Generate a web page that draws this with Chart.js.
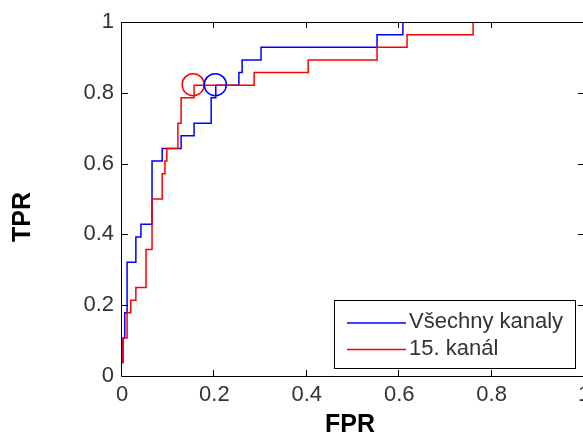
<!DOCTYPE html>
<html>
<head>
<meta charset="utf-8">
<script src="https://cdn.jsdelivr.net/npm/chart.js@4/dist/chart.umd.min.js"></script>
<style>
    html, body { margin: 0; padding: 0; background: #fff; overflow: hidden; width: 583px; height: 434px; }
    #wrap { width: 600px; height: 434px; }
</style>
</head>
<body>
<div id="wrap"><canvas id="rocChart"></canvas></div>
<script>
// ROC curve vertices
const allFpr = [0.002, 0.002, 0.006, 0.006, 0.011, 0.011, 0.030, 0.030, 0.041, 0.041, 0.065, 0.065, 0.087, 0.087,
    0.128, 0.128, 0.156, 0.156, 0.193, 0.193, 0.203, 0.203, 0.253, 0.253, 0.260, 0.260, 0.301, 0.301,
    0.552, 0.552, 0.608, 0.608, 1];
const allTpr = [0.036, 0.107, 0.107, 0.179, 0.179, 0.321, 0.321, 0.393, 0.393, 0.429, 0.429, 0.607, 0.607, 0.643,
    0.643, 0.679, 0.679, 0.714, 0.714, 0.786, 0.786, 0.821, 0.821, 0.857, 0.857, 0.893, 0.893, 0.929,
    0.929, 0.964, 0.964, 1, 1];

const ch15Fpr = [0.002, 0.002, 0.011, 0.011, 0.019, 0.019, 0.030, 0.030, 0.052, 0.052, 0.065, 0.065,
    0.087, 0.087, 0.093, 0.093, 0.097, 0.097, 0.121, 0.121, 0.128, 0.128, 0.156, 0.156, 0.286, 0.286,
    0.403, 0.403, 0.552, 0.552, 0.617, 0.617, 0.760, 0.760, 1];
const ch15Tpr = [0.036, 0.107, 0.107, 0.179, 0.179, 0.214, 0.214, 0.25, 0.25, 0.357, 0.357, 0.5,
    0.5, 0.571, 0.571, 0.607, 0.607, 0.643, 0.643, 0.714, 0.714, 0.786, 0.786, 0.821, 0.821, 0.857,
    0.857, 0.893, 0.893, 0.929, 0.929, 0.964, 0.964, 1, 1];

// operating points (circles)
const allPoint = [0.202, 0.823];
const ch15Point = [0.154, 0.823];

const seriesLabels = ['Všechny kanaly', '15. kanál'];
const xTickLabels = ['0', '0.2', '0.4', '0.6', '0.8', '1'];
const yTickLabels = ['0', '0.2', '0.4', '0.6', '0.8', '1'];
const xTitle = 'FPR';
const yTitle = 'TPR';

const FONT = '"Liberation Sans", Arial, sans-serif';

const toXY = (xs, ys) => xs.map((v, i) => ({ x: v, y: ys[i] }));

// MATLAB-like box, inward ticks, legend and axis labels
const matlabAxes = {
    id: 'matlabAxes',
    afterDraw(chart) {
        const { ctx, chartArea: a, scales: { x, y } } = chart;
        ctx.save();
        ctx.strokeStyle = '#000';
        ctx.lineWidth = 1;
        ctx.beginPath();
        ctx.rect(a.left - 0.5, a.top + 0.5, a.right - a.left, a.bottom - a.top);
        x.ticks.forEach(t => {
            const px = Math.round(x.getPixelForValue(t.value)) - 0.5;
            ctx.moveTo(px, a.bottom); ctx.lineTo(px, a.bottom - 6);
            ctx.moveTo(px, a.top); ctx.lineTo(px, a.top + 6);
        });
        y.ticks.forEach(t => {
            const py = Math.round(y.getPixelForValue(t.value)) + 0.5;
            ctx.moveTo(a.left, py); ctx.lineTo(a.left + 6, py);
            ctx.moveTo(a.right, py); ctx.lineTo(a.right - 6, py);
        });
        ctx.stroke();

        // legend
        const lx = 334.5, ly = 300.5, lw = 241, lh = 68;
        ctx.fillStyle = '#fff';
        ctx.fillRect(lx, ly, lw, lh);
        ctx.strokeRect(lx, ly, lw, lh);
        ctx.font = '22px ' + FONT;
        ctx.textAlign = 'left';
        ctx.textBaseline = 'alphabetic';
        [0, 1].forEach(i => {
            const ds = chart.data.datasets[i];
            const rowY = 323 + i * 26.5;
            ctx.strokeStyle = ds.borderColor;
            ctx.lineWidth = 1.5;
            ctx.beginPath();
            ctx.moveTo(347, rowY); ctx.lineTo(406, rowY);
            ctx.stroke();
            ctx.fillStyle = '#333';
            ctx.fillText(ds.label, 409, rowY + 5);
        });

        // axis titles
        ctx.fillStyle = '#000';
        ctx.font = 'bold 25px ' + FONT;
        ctx.textAlign = 'center';
        ctx.textBaseline = 'middle';
        ctx.fillText(xTitle, 350, 425);
        ctx.save();
        ctx.translate(23, 217);
        ctx.rotate(-Math.PI / 2);
        ctx.fillText(yTitle, 0, 0);
        ctx.restore();
        ctx.restore();
    }
};

new Chart(document.getElementById('rocChart'), {
    type: 'scatter',
    data: {
        datasets: [{
            label: seriesLabels[0],
            data: toXY(allFpr, allTpr),
            showLine: true,
            borderColor: '#0000ff',
            borderWidth: 1.5,
            pointRadius: 0,
            order: 2
        }, {
            label: seriesLabels[1],
            data: toXY(ch15Fpr, ch15Tpr),
            showLine: true,
            borderColor: '#ff0000',
            borderWidth: 1.5,
            pointRadius: 0,
            order: 1
        }, {
            label: 'op-all',
            data: [{ x: allPoint[0], y: allPoint[1] }],
            pointRadius: 11,
            pointBorderWidth: 1.5,
            borderColor: '#0000ff',
            backgroundColor: 'rgba(0,0,0,0)',
            order: 0
        }, {
            label: 'op-15',
            data: [{ x: ch15Point[0], y: ch15Point[1] }],
            pointRadius: 11,
            pointBorderWidth: 1.5,
            borderColor: '#ff0000',
            backgroundColor: 'rgba(0,0,0,0)',
            order: 0
        }]
    },
    options: {
        responsive: true,
        maintainAspectRatio: false,
        animation: false,
        layout: { padding: { top: 22, right: 16, left: 0, bottom: 0 } },
        plugins: {
            legend: { display: false },
            tooltip: { enabled: false }
        },
        scales: {
            x: {
                type: 'linear',
                min: 0,
                max: 1,
                afterFit: s => { s.height = 58; },
                grid: { display: false, drawTicks: false },
                border: { display: false },
                ticks: {
                    stepSize: 0.2,
                    padding: 6,
                    color: '#333',
                    font: { family: FONT, size: 22 },
                    maxRotation: 0,
                    callback: (v, i) => xTickLabels[i]
                }
            },
            y: {
                type: 'linear',
                min: 0,
                max: 1,
                afterFit: s => { s.width = 122; },
                grid: { display: false, drawTicks: false },
                border: { display: false },
                ticks: {
                    stepSize: 0.2,
                    padding: 8,
                    color: '#333',
                    font: { family: FONT, size: 22 },
                    callback: (v, i) => yTickLabels[i]
                }
            }
        }
    },
    plugins: [matlabAxes]
});
</script>
</body>
</html>
